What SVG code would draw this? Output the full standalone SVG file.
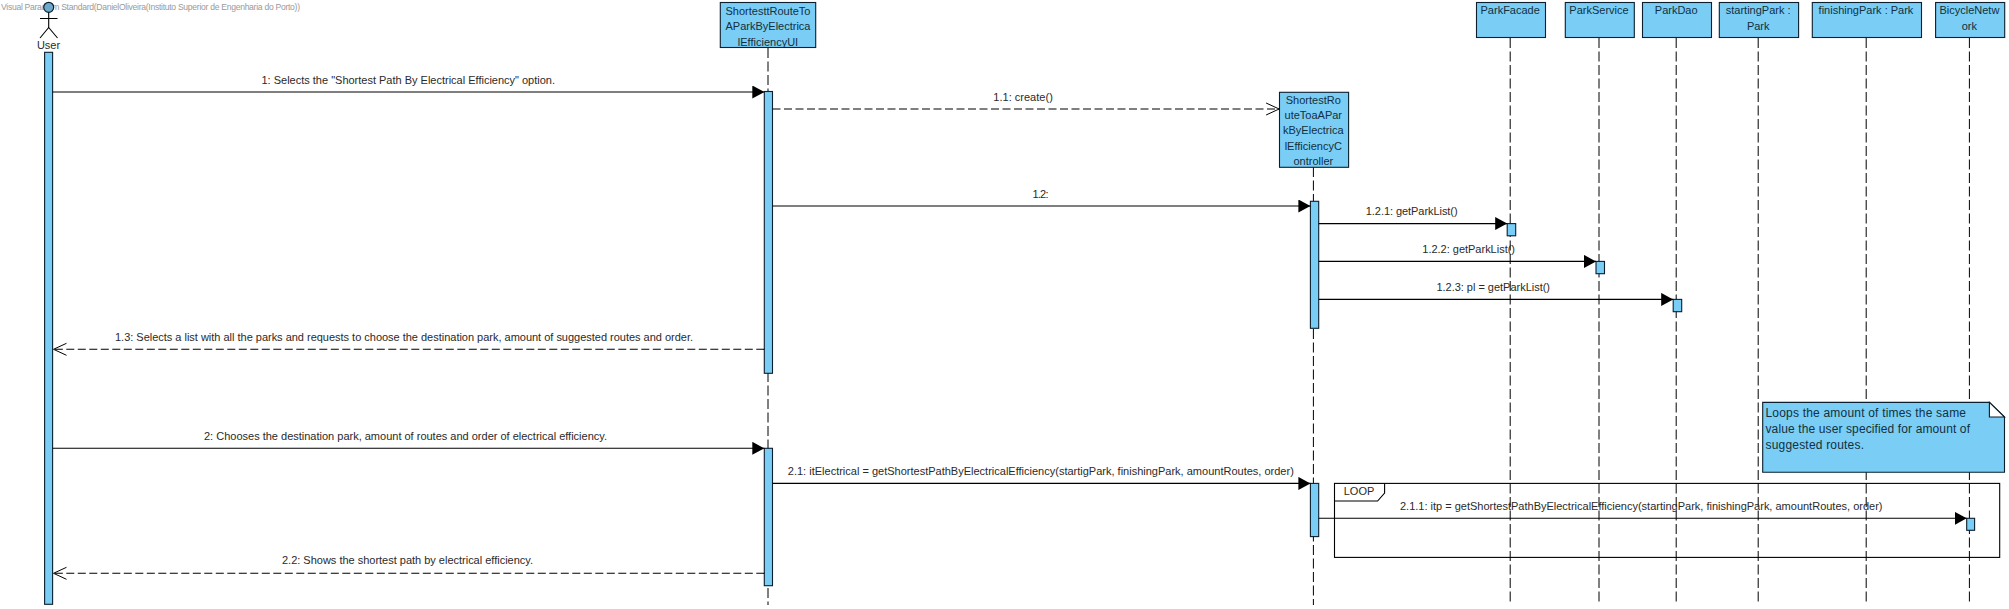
<svg xmlns="http://www.w3.org/2000/svg" width="2009" height="609" viewBox="0 0 2009 609">
<style>
text{font-family:"Liberation Sans",Arial,sans-serif;font-size:11px;fill:#2a2a2a}
.n{fill:#12303f}
.nt{font-size:12px;fill:#12303f}
.c{text-anchor:middle}
.b{fill:#7acdf5;stroke:#0b1f2e;stroke-width:1.1}
.l{fill:none;stroke:#000;stroke-width:1.1}
.d{stroke-dasharray:8 3.5}
.ll{stroke:#000;stroke-width:1;stroke-dasharray:10 3.5;fill:none}
.w{font-size:8.6px;fill:#9a9a9a}
</style>
<defs>
<marker id="f" markerUnits="userSpaceOnUse" markerWidth="14" markerHeight="14" refX="12" refY="6.5" orient="auto"><path d="M0 0L12 6.5L0 13Z" fill="#000"/></marker>
<marker id="o" markerUnits="userSpaceOnUse" markerWidth="16" markerHeight="16" refX="13.5" refY="7" orient="auto"><path d="M0 1L13 7L0 13" fill="none" stroke="#000" stroke-width="1"/></marker>
</defs>
<rect width="2009" height="609" fill="#fff"/>
<text id="watermark" class="w" x="1" y="10" textLength="299">Visual Paradigm Standard(DanielOliveira(Instituto Superior de Engenharia do Porto))</text>
<g id="lifelines">
<path class="ll" d="M768 48V605M1313.4 167V605M1510.2 38V605M1599 38V605M1676.2 38V605M1758.2 38V605M1866.2 38V605M1969.4 38V605"/>
</g>
<g id="note"><path class="b" d="M1762.7 402.4H1989.4L2004.5 417V472.3H1762.7Z"/><path d="M1989.4 402.4V417H2004.5Z" fill="#fff" stroke="#0b1f2e" stroke-width="1.1"/>
<text class="nt" x="1765.5" y="417.2" textLength="200.5">Loops the amount of times the same</text><text class="nt" x="1765.5" y="433.2" textLength="204.5">value the user specified for amount of</text><text class="nt" x="1765.5" y="449.2" textLength="98.5">suggested routes.</text></g>
<g id="loop"><rect class="l" x="1334.5" y="483.4" width="665.2" height="74"/><path class="l" d="M1334.5 501H1377.6L1384.6 493V483.4" fill="#fff"/><text class="c" x="1359" y="495">LOOP</text></g>
<g id="user"><circle cx="48.7" cy="7.3" r="5" fill="#6ea9c9" stroke="#0b1f2e" stroke-width="1.2"/><path class="l" d="M48.7 12.5V27.5M40 18.5H57.5M48.7 27.5L40 38M48.7 27.5L57.5 38"/><text class="c" x="48.5" y="49">User</text><rect class="b" x="44.6" y="52.3" width="8" height="552"/></g>
<g id="ui"><rect class="b" x="720.3" y="2.5" width="95.4" height="45"/><text class="c n" x="768" y="14.5">ShortesttRouteTo</text><text class="c n" x="768" y="30">AParkByElectrica</text><text class="c n" x="768" y="46">lEfficiencyUI</text><rect class="b" x="764.3" y="91.5" width="8.2" height="281.8"/><rect class="b" x="764.3" y="448.3" width="8.2" height="137.4"/></g>
<g id="controller"><rect class="b" x="1279.5" y="92.3" width="69.1" height="75"/><text class="c n" x="1313.3" y="104">ShortestRo</text><text class="c n" x="1313.3" y="119.2">uteToaAPar</text><text class="c n" x="1313.3" y="134.4">kByElectrica</text><text class="c n" x="1313.3" y="149.5">lEfficiencyC</text><text class="c n" x="1313.3" y="164.6">ontroller</text><rect class="b" x="1310.4" y="201.3" width="8.3" height="127"/><rect class="b" x="1310.4" y="483.4" width="8.3" height="53.2"/></g>
<g id="parkfacade"><rect class="b" x="1476.5" y="2.5" width="69" height="35"/><text class="c n" x="1510.2" y="14">ParkFacade</text><rect class="b" x="1507.2" y="223.6" width="8.5" height="12.2"/></g>
<g id="parkservice"><rect class="b" x="1565.3" y="2.5" width="69" height="35"/><text class="c n" x="1599" y="14">ParkService</text><rect class="b" x="1596" y="261.4" width="8.5" height="12.3"/></g>
<g id="parkdao"><rect class="b" x="1642.5" y="2.5" width="69" height="35"/><text class="c n" x="1676.2" y="14">ParkDao</text><rect class="b" x="1673.2" y="299.4" width="8.5" height="12.3"/></g>
<g id="startingpark"><rect class="b" x="1719.3" y="2.5" width="79.3" height="35"/><text class="c n" x="1758.2" y="14">startingPark :</text><text class="c n" x="1758.2" y="29.5">Park</text></g>
<g id="finishingpark"><rect class="b" x="1812.3" y="2.5" width="109.2" height="35"/><text class="c n" x="1866" y="14">finishingPark : Park</text></g>
<g id="bicyclenetwork"><rect class="b" x="1935.6" y="2.5" width="69.1" height="35"/><text class="c n" x="1969.4" y="14">BicycleNetw</text><text class="c n" x="1969.4" y="29.5">ork</text><rect class="b" x="1966.7" y="518.3" width="7.9" height="12"/></g>
<g id="connectors">
<path class="l" d="M52.6 92H764.3" marker-end="url(#f)"/>
<path class="l d" d="M772.5 109H1279.6" marker-end="url(#o)"/>
<path class="l" d="M772.5 206H1310.4" marker-end="url(#f)"/>
<path class="l" d="M1318.7 223.6H1507.2" marker-end="url(#f)"/>
<path class="l" d="M1318.7 261.4H1596" marker-end="url(#f)"/>
<path class="l" d="M1318.7 299.4H1673.2" marker-end="url(#f)"/>
<path class="l d" d="M764.3 349.3H53" marker-end="url(#o)"/>
<path class="l" d="M52.6 448.3H764.3" marker-end="url(#f)"/>
<path class="l" d="M772.5 483.4H1310.4" marker-end="url(#f)"/>
<path class="l" d="M1318.7 518.3H1966.7" marker-end="url(#f)"/>
<path class="l d" d="M764.3 573.3H53" marker-end="url(#o)"/>
</g>
<g id="labels">
<text x="261.5" y="84" textLength="293.5">1: Selects the "Shortest Path By Electrical Efficiency" option.</text>
<text x="993.3" y="101" textLength="59.5">1.1: create()</text>
<text x="1032.5" y="198" textLength="16">1.2:</text>
<text x="1365.8" y="215" textLength="91.8">1.2.1: getParkList()</text>
<text x="1422.3" y="252.5" textLength="92.7">1.2.2: getParkList()</text>
<text x="1436.4" y="291" textLength="113.6">1.2.3: pl = getParkList()</text>
<text x="115" y="340.7" textLength="578">1.3: Selects a list with all the parks and requests to choose the destination park, amount of suggested routes and order.</text>
<text x="204" y="440" textLength="403">2: Chooses the destination park, amount of routes and order of electrical efficiency.</text>
<text x="787.8" y="475" textLength="506">2.1: itElectrical = getShortestPathByElectricalEfficiency(startigPark, finishingPark, amountRoutes, order)</text>
<text x="1400" y="510" textLength="482.5">2.1.1: itp = getShortestPathByElectricalEfficiency(startingPark, finishingPark, amountRoutes, order)</text>
<text x="282" y="564" textLength="251">2.2: Shows the shortest path by electrical efficiency.</text>
</g>
</svg>
